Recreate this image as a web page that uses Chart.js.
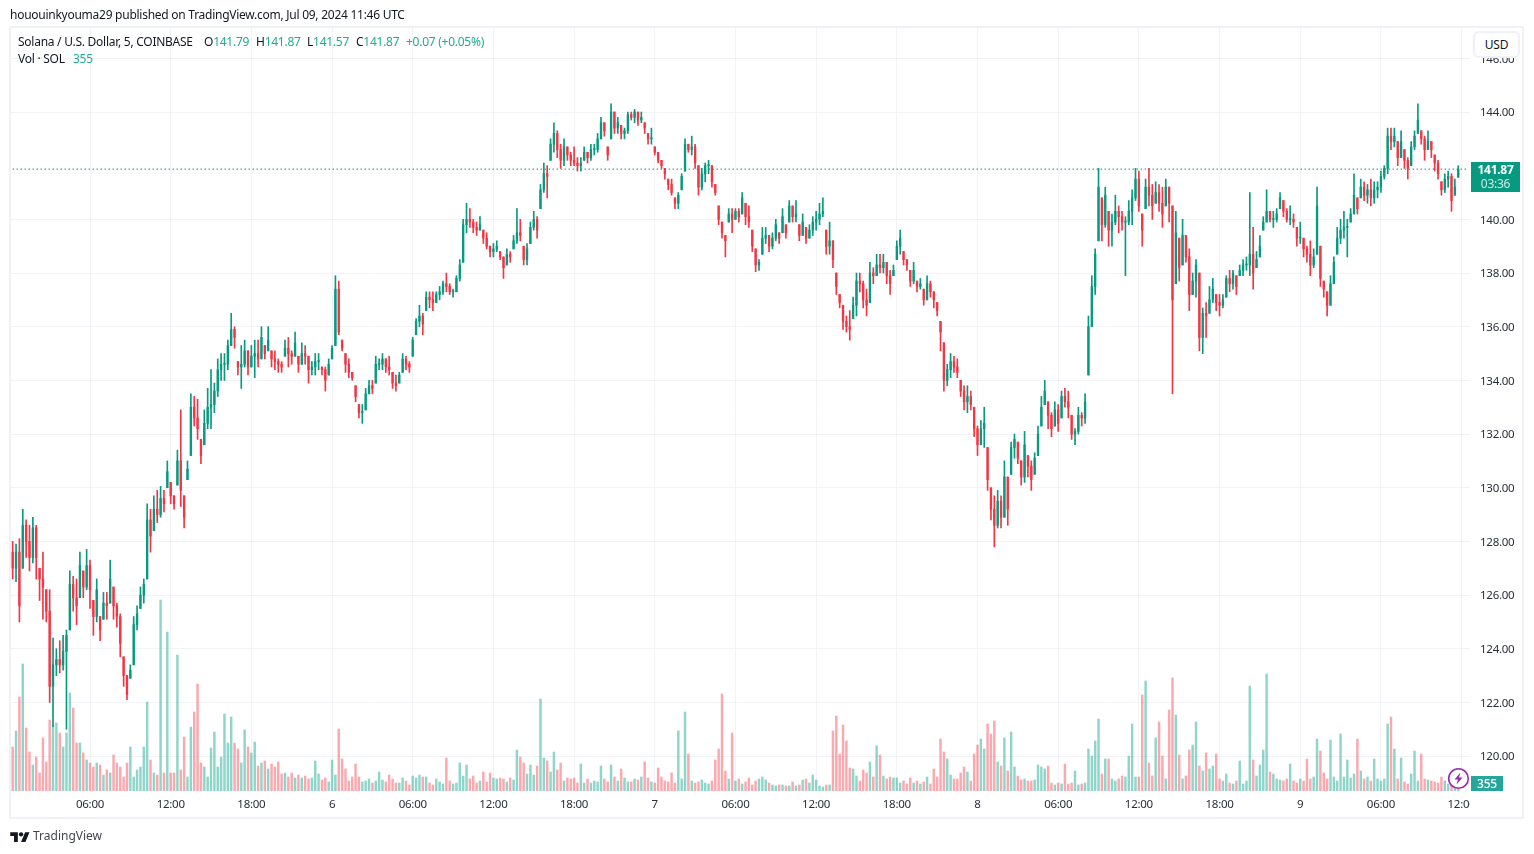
<!DOCTYPE html>
<html>
<head>
<meta charset="utf-8">
<title>SOLUSD</title>
<script src="https://cdn.jsdelivr.net/npm/chart.js@4"></script>
<style>
    html, body { margin: 0; padding: 0; background: #fff; }
    body { width: 1534px; height: 854px; position: relative; overflow: hidden;
           font-family: "Noto Sans", sans-serif; font-size: 12px; letter-spacing: -0.26px; color: #131722; }
    canvas { position: absolute; left: 0; top: 0; }
    .abs { position: absolute; white-space: nowrap; line-height: 14px; }
    .teal { color: #22ab94; }
    #frame { position: absolute; left: 9px; top: 26px; width: 1511px; height: 789px; border: 2px solid #f0f1f6; }
    #usdCover { position: absolute; left: 1471px; top: 28px; width: 49px; height: 30px; background: #fff; }
    #usd { position: absolute; left: 1473px; top: 31px; width: 43px; height: 23px; border: 2px solid #f0f1f6;
           border-radius: 6px; background: #fff; text-align: center; line-height: 23px; }
    #timeCover { position: absolute; left: 1470px; top: 795px; width: 50px; height: 20px; background: #fff; }
    #priceTag { position: absolute; left: 1471px; width: 49px; height: 29px; padding-top: 1px; background: #089981; color: #fff;
                text-align: center; font-weight: 700; line-height: 14px; }
    #priceTag div + div { font-weight: 400; opacity: .8; }
    #volTag { position: absolute; left: 1471px; top: 776px; width: 32px; height: 15px; background: #26a69a;
              color: #fff; text-align: center; line-height: 15px; font-weight: 500; }
</style>
</head>
<body>
<canvas id="chart" width="1534" height="854"></canvas>
<div id="frame"></div>
<div id="usdCover"></div>
<div id="usd">USD</div>
<div id="timeCover"></div>

<div class="abs" style="left:10px;top:8px">hououinkyouma29 published on TradingView.com, Jul 09, 2024 11:46 UTC</div>
<div class="abs" style="left:18px;top:35px">Solana / U.S. Dollar, 5, COINBASE</div>
<div class="abs" style="left:204px;top:35px">O<span class="teal">141.79</span></div>
<div class="abs" style="left:256px;top:35px">H<span class="teal">141.87</span></div>
<div class="abs" style="left:307px;top:35px">L<span class="teal">141.57</span></div>
<div class="abs" style="left:356px;top:35px">C<span class="teal">141.87</span></div>
<div class="abs teal" style="left:406px;top:35px">+0.07 (+0.05%)</div>
<div class="abs" style="left:18px;top:52px">Vol · SOL</div>
<div class="abs teal" style="left:73px;top:52px">355</div>

<div id="priceTag"><div>141.87</div><div>03:36</div></div>
<div id="volTag">355</div>

<svg class="abs" style="left:1447px;top:767px" width="23" height="23" viewBox="0 0 23 23">
    <circle cx="11.5" cy="11.5" r="9.8" fill="#fff" stroke="#9c27b0" stroke-width="1.6"/>
    <path d="M13.5 5.5 L7.5 12.5 H11 L9.5 17.5 L15.5 10.5 H12 Z" fill="#9c27b0"/>
</svg>

<svg class="abs" style="left:10px;top:830px" width="20" height="13" viewBox="0 0 36 24">
    <path d="M14 22H7V11H0V4h14v18zM28 22h-8l7.5-18h8L28 22z" fill="#131722"/>
    <circle cx="20" cy="8" r="4" fill="#131722"/>
</svg>
<div class="abs" style="left:33px;top:829px;font-size:12px;letter-spacing:0;color:#434651">TradingView</div>

<script>
// ============================================
// SOLUSD candles, one row per 6 hours
// (first candle 00:15 Jul 5, last candle 11:45 Jul 9, 15 minute steps)
// ============================================

const firstOpen = 127.6;

const highs = [
    128,127.9,128.1,129.2,128.8,128.6,128.9,128.6,127,127.6,126.2,126.2,124.4,124,124.3,124.5,124.7,126.9,126.7,126.6,127.6,126.9,127.7,
    127.3,125.8,126.6,125.2,126.1,126.1,127.3,126.3,125.7,125.3,123.7,123,123.4,125.2,125.6,126.3,126.6,129.4,129.2,129.7,129.9,130.05,129.9,131,
    130.2,129.7,131.4,132.9,129.7,131,133.5,133.4,133.3,131.8,132.9,133.7,134.4,133.9,134.8,135,135,135.5,136.5,136,134.7,135.3,135.5,135.1,
    135.3,135.5,135.5,136,135.3,136,135.1,135.1,134.8,134.7,135.5,135.6,135.1,135.8,134.9,135.4,135.3,134.9,134.7,135,135,134.5,134.5,134.8,
    135.3,137.9,137.7,135.5,135,134.8,134.3,133.8,133.1,133.1,133.7,134,134,134.9,134.8,135,134.8,134.9,134.3,134.2,134.3,135,134.9,134.7,
    135.6,136.3,136.8,136.5,137.3,137.3,137.3,137.3,137.5,137.7,138,137.6,137.4,137.9,138.5,140,140.6,140.4,140,139.9,140.1,139.6,139.5,139,
    139.1,139.2,138.8,138.6,138.9,138.8,139.4,140.4,140,139,139.1,139.9,140.3,140.1,141.3,142.1,142,143,143.6,143.3,142.8,143,142.7,142.5,
    142.7,142.3,142.3,142.7,142.5,142.8,142.8,143.2,143.8,143.6,142.7,144.3,144,143.8,143.5,143.4,144,144,144.1,144,144,143.6,143.2,143.4,
    142.7,142.5,142.2,141.9,141.5,141.5,140.8,141,141.7,143,142.8,143.1,142.8,142,141.9,142.1,142.2,142,141.3,140.5,139.9,139.4,140.4,140.4,
    140.4,140.4,141,140.6,140.5,139.6,138.9,138.5,139.7,139.7,139.4,139.5,140,139.5,140.4,139.8,140.7,140.5,140.7,139.8,140.2,139.7,139.8,140.1,
    140.3,140.6,140.8,139.6,139.9,139.2,138,137.2,136.8,136.4,136.6,137.1,138,138,137.7,137.4,138.4,138.2,138.7,138.7,138.7,138.4,138.1,138.3,
    139.2,139.6,138.8,138.5,138.1,138.4,137.7,137.8,137.4,137.9,137.7,137.3,136.9,136.2,135.4,134.6,135,134.9,134.8,134,133.8,133.8,133.6,133,
    132.3,132.5,133,131.5,130,129.7,129.9,129.7,131,130.4,131.7,132,131.7,131,132.1,131.2,131,131.3,132.3,133.4,134,133.2,132.8,133.2,
    133.1,133.6,133.7,133.6,132.7,132.2,133,132.8,133.5,136.4,137.9,138.9,141.9,140.8,141.2,140.3,140.2,140.9,140.5,140.3,140.1,140.7,141.1,141.9,
    141.8,140.2,141.5,141.9,141.3,141.4,141.3,141.2,141.5,141.2,140.5,140.3,139.3,140,139.4,138.9,138,138.5,138,136.7,136.9,137.5,137.8,137.2,
    137.2,137.2,137.9,138.1,138.1,137.9,138.3,138.5,138.6,141,139.7,138.8,139.4,140.1,141.1,140.3,140.3,140.4,141,140.7,140.4,140.5,140.2,139.7,
    139.9,139.3,139,139.2,138.9,141.2,139,137.7,137.3,137.9,138.6,139.7,140,140.3,140,140.4,141.7,140.8,141.5,141.4,141.3,141.5,141.4,141.4,
    141.8,142,143.4,143.4,143.4,142.9,143.3,142.6,142.3,142.9,143.3,144.3,143.3,143.1,143.3,142.9,142.4,142.2,141.4,141.7,141.8,141.7,141.5,142
];

const lows = [
    126.6,126.5,125,127,127.4,126.9,127.2,126.6,125.8,125.1,125,122,121.1,123,123.1,123.2,121,124.7,125.4,124.9,125.9,125.9,126.2,
    125.5,124.5,125,124.3,125.1,125.1,125.7,125.1,124.8,123.7,122.6,122.1,122.9,123.4,124.7,125.5,125.7,126.6,127.6,128.4,128.7,128.9,129.1,130,
    129.4,129.2,130.1,129.3,128.5,130.3,131.2,132.3,131.8,130.9,131.6,132.2,132.2,132.8,133.4,134,134,134.4,135.3,135.2,134.2,133.7,134.5,134.2,
    134.5,134.1,134.5,134.8,134.8,135.1,134.5,134.4,134.3,134.3,134.9,134.5,134.6,134.9,134.3,134.6,134.6,133.9,134.2,134.2,134.4,134.2,133.6,134.2,
    134.8,135.3,135.7,135.1,134.3,134.1,134,133.2,132.6,132.4,132.9,133.5,133.5,133.9,134.4,134.4,134.3,134.2,133.7,133.6,133.9,134.3,134.4,134.3,
    134.9,135.7,136,135.7,136.6,136.7,136.6,136.9,137,137.2,137.3,137.2,137.1,137.3,137.7,138.4,139.5,139.7,139.5,139.4,139.6,139.1,138.9,138.6,
    138.6,138.8,138.5,137.8,138.3,138.4,138.9,139.1,139.2,138.3,138.3,139.1,139.6,139.3,140.4,141,140.8,142.2,142.5,142.3,141.9,142,142.2,142,
    142,141.8,141.8,142.2,142.1,142.2,142.4,142.5,143,143.1,142.2,143,143.2,143.2,143,143,143.2,143.7,143.6,143.5,143.6,143.2,142.8,142.8,
    142.4,142.1,141.9,141.5,141.1,140.9,140.4,140.4,141.1,141.8,142.5,142.4,141.9,140.9,141.1,141.4,141.7,141.2,140.9,139.8,139.3,138.6,139.9,139.5,
    140,139.9,140.2,139.8,139.7,138.8,138.05,138.1,138.7,139.1,138.8,138.9,139.2,139.1,139.5,139.3,139.9,139.9,139.9,139.2,139.4,139.1,139.3,139.4,
    139.6,139.8,140.1,138.7,138.7,138.2,137.2,136.7,135.9,135.8,135.5,136.3,136.4,137.3,136.7,136.4,136.9,137.6,137.9,138,138,137.6,137.2,137.9,
    138.5,138.7,138.3,138.1,137.5,137.6,137.3,137.4,136.8,137,137.1,136.7,136.4,135.1,133.6,133.8,134.1,134.3,134.1,133.4,132.9,132.8,132.9,131.9,
    131.2,131.6,131.5,129.9,128.8,127.8,128.5,128.5,128.9,128.6,130.5,131.1,130.9,130.1,130.2,130.4,129.9,130.5,131.2,132.3,133.1,132.2,131.9,132.3,
    132.1,132.6,133,132.6,131.8,131.6,132,132.3,132.4,134.2,136,137.2,139.2,139.2,139.7,139,139,139.8,139.5,139.6,137.9,139.8,139.8,140.7,
    140.3,139,140.4,140.5,140,140.6,140.3,139.7,140.5,139.9,133.5,137.6,137.7,138.3,138.4,136.6,137.2,137.1,135.1,135,135.6,136.5,136.9,136.6,
    136.4,136.7,137.1,137.3,137.4,137.2,137.9,137.9,138.1,137.9,137.4,138.2,138.6,139.6,139.9,139.9,139.7,139.9,140.4,140.1,139.9,139.8,139.7,139,
    139.1,138.6,138.4,137.9,138.2,138.7,137.5,137.1,136.4,136.8,137.6,138.7,139.1,139.3,138.6,139.9,140.2,140.2,140.8,140.7,140.6,140.5,140.6,140.8,
    141,141.5,141.7,142.6,142.7,142,142.3,141.9,141.5,142,142.6,143.2,142.8,142.2,142.6,142.3,141.8,141.5,140.9,141,141.2,140.3,140.9,141.57
];

const closes = [
    127,127.6,125.6,128.6,128,127.4,128.5,127.4,126.6,126.3,125.4,122.6,123.4,123.6,123.4,123.9,124.5,126.4,125.9,125.6,127.1,126.3,127.1,
    126.2,125.2,126.2,124.7,125.7,125.6,126.6,125.6,125.2,124.2,123,122.3,123.2,124.9,125.3,126,126.4,128.8,128.2,129.2,129,129.6,129.4,130.6,
    129.7,129.4,131,129.9,128.9,130.7,133,132.6,132.2,131.2,132.4,133,133.1,133.6,134.4,134.6,134.6,135.3,135.9,135.6,134.5,134.6,135.1,134.5,
    134.9,135,134.8,135.6,135,135.5,134.8,134.7,134.6,134.5,135.2,135,134.9,135.4,134.6,135,134.9,134.4,134.5,134.7,134.7,134.4,134,134.6,
    135.2,137.4,135.8,135.2,134.6,134.3,134.1,133.4,132.8,132.8,133.5,133.8,133.7,134.6,134.6,134.8,134.5,134.4,133.9,133.8,134.2,134.8,134.6,134.5,
    135.5,136.2,136.4,136.1,137.1,137,136.9,137.2,137.3,137.6,137.5,137.3,137.3,137.8,138.3,139.8,140,139.9,139.7,139.6,139.8,139.3,139,138.8,
    138.9,139,138.6,138.2,138.7,138.6,139.2,139.5,139.4,138.5,138.9,139.7,140,139.6,141.1,141.7,141.6,142.8,143.2,142.6,142.2,142.7,142.4,142.2,
    142.1,142,142.1,142.5,142.3,142.6,142.6,143,143.6,143.3,142.4,144,143.4,143.6,143.2,143.3,143.9,143.8,144,143.7,143.8,143.4,143,143,
    142.5,142.2,142,141.7,141.3,141,140.6,140.9,141.6,142.8,142.6,142.7,142.1,141.2,141.7,142,142,141.4,141,140,139.5,139.2,140.2,140,
    140.3,140.1,140.8,140.1,139.9,139,138.3,138.4,139.3,139.4,139,139.3,139.8,139.3,140.1,139.5,140.5,140.1,140.2,139.4,139.9,139.3,139.6,139.9,
    140,140.2,140.3,139,139.2,138.5,137.5,136.9,136.2,136,135.9,136.8,137.7,137.6,137,136.8,138,137.9,138.3,138.2,138.4,137.9,137.6,138.1,
    139,139.3,138.5,138.3,137.7,138.1,137.5,137.6,137,137.6,137.3,137,136.6,135.8,134,134.4,134.7,134.5,134.3,133.6,133.2,133.4,133.1,132.2,
    131.6,132.2,132.4,130.3,129.2,128.6,129.5,128.9,130.4,129.2,131.5,131.8,131.1,130.4,131.6,130.8,130.3,131.1,132,133,133.6,132.7,132.2,132.9,
    132.4,133.4,133.2,133,132,132.1,132.7,132.6,133.2,136,137.5,138.7,141.2,139.8,140.9,139.6,139.9,140.3,140.1,139.9,139.9,140.3,140.8,141.5,
    140.5,139.6,141.2,140.9,140.5,141,140.6,140.2,141.2,140.6,137,139.5,138.2,139.4,138.6,137.2,137.7,138.3,135.6,136.5,136.4,137,137.4,136.9,
    136.8,137,137.8,137.6,138,137.5,138.1,138.3,138.3,138.7,138,138.5,139,139.9,140.3,140,140,140.2,140.8,140.3,140,140,139.9,139.3,
    139.3,138.9,138.7,138.3,138.6,140.5,137.8,137.4,136.8,137.6,138.4,139.3,139.6,139.7,139.7,140.2,140.9,140.4,141.2,140.9,141.1,140.8,141.1,141.2,
    141.6,141.9,143.1,142.9,143.1,142.3,142.9,142.2,141.9,142.7,143.1,143.7,143,142.6,142.9,142.6,142.1,141.7,141.1,141.5,141.6,140.7,141.2,141.87
];

const volumes = [
    44,60,94,127,63,39,26,34,18,53,29,71,66,68,58,44,58,98,83,48,48,38,31,
    28,24,28,26,16,21,18,36,28,24,14,28,44,14,21,24,44,89,31,18,16,191,18,159,
    18,18,136,21,54,14,64,79,107,28,24,14,43,59,24,34,77,48,74,48,42,28,61,44,
    38,49,25,28,30,22,27,24,29,17,18,14,18,13,16,13,15,12,13,30,17,11,13,9,
    31,16,62,32,22,10,14,27,14,9,10,12,8,10,19,11,9,16,12,8,8,13,10,6,
    15,13,16,14,14,8,6,12,9,7,33,10,7,8,28,15,26,12,15,8,10,19,9,18,
    13,12,13,12,9,13,11,41,34,28,17,26,16,25,92,33,30,19,39,21,28,10,13,12,
    13,8,27,8,12,8,10,9,25,12,9,26,14,10,22,13,9,9,12,11,14,29,13,9,
    8,23,14,10,9,18,8,60,12,79,37,10,8,9,11,8,7,10,31,42,97,20,12,58,
    10,12,7,9,13,6,10,12,14,11,8,6,5,6,6,5,5,9,5,6,11,12,8,16,
    11,5,4,6,6,60,75,37,66,50,23,22,15,10,21,18,29,14,45,36,15,12,14,13,
    13,8,10,7,13,8,10,7,9,14,7,22,14,52,39,32,16,12,12,18,24,19,10,37,
    46,52,42,67,57,70,29,25,53,20,59,24,15,11,12,10,10,11,26,24,22,25,8,6,
    8,7,27,7,8,20,6,7,8,42,35,50,72,17,32,32,12,10,12,15,14,35,67,14,
    14,96,110,28,15,53,69,35,12,81,113,76,36,12,15,41,46,69,25,20,38,22,25,37,
    12,10,17,8,7,10,30,7,10,105,31,15,26,41,117,19,17,12,11,10,12,27,10,8,
    12,10,32,12,14,52,40,18,12,51,14,10,57,14,31,13,17,52,20,12,14,10,32,12,
    10,12,67,74,42,12,33,9,7,17,40,10,37,12,11,10,9,8,14,10,7,8,5,1.8
];

const lastPrice = 141.87;
const priceTicks = [120, 122, 124, 126, 128, 130, 132, 134, 136, 138, 140, 144, 146];   // 142 gives way to the price tag
const dayLabels = { 1: '6', 2: '7', 3: '8', 4: '9' };   // key = days after Jul 5

// Slot labels, 3 empty slots are left after the last candle
const categories = [];
for (let i = 0; i < closes.length + 3; i++) {
    const minutes = (i + 1) * 15;
    const hour = Math.floor(minutes / 60) % 24;
    const minute = minutes % 60;
    const day = Math.floor(minutes / 1440);
    if (hour === 0 && minute === 0) categories.push(dayLabels[day]);
    else categories.push(String(hour).padStart(2, '0') + ':' + String(minute).padStart(2, '0'));
}

const opens = closes.map((c, i) => {
    const prev = i === 0 ? firstOpen : closes[i - 1];
    return Math.min(highs[i], Math.max(lows[i], prev));
});

const isUp = closes.map((c, i) => c >= opens[i]);
const UP = '#089981';
const DOWN = '#f23645';

function isMajorSlot(i) {
    const minutes = (i + 1) * 15;
    return minutes % 360 === 0;
}

const chart = new Chart(document.getElementById('chart'), {
    type: 'bar',
    data: {
        labels: categories,
        datasets: [
            {
                type: 'line',
                data: categories.map(() => lastPrice),
                yAxisID: 'y',
                borderColor: UP,
                borderWidth: 1.2,
                borderDash: [1.2, 2.8],
                pointRadius: 0,
                order: 0
            },
            {
                data: closes.map((c, i) => [opens[i], c]),
                yAxisID: 'y',
                backgroundColor: isUp.map(u => u ? UP : DOWN),
                barThickness: 1.7,
                minBarLength: 1,
                grouped: false,
                order: 1
            },
            {
                data: highs.map((h, i) => [lows[i], h]),
                yAxisID: 'y',
                backgroundColor: isUp.map(u => u ? UP : DOWN),
                barThickness: 1,
                grouped: false,
                order: 2
            },
            {
                data: volumes,
                yAxisID: 'yVol',
                backgroundColor: isUp.map(u => u ? 'rgba(34,171,148,0.5)' : 'rgba(247,82,95,0.5)'),
                barThickness: 1.8,
                grouped: false,
                order: 3
            }
        ]
    },
    options: {
        responsive: false,
        animation: false,
        events: [],
        layout: { padding: { left: 11, top: 28, right: 10, bottom: 35 } },
        plugins: { legend: { display: false }, tooltip: { enabled: false } },
        scales: {
            x: {
                offset: true,
                grid: { color: '#f2f3f6', offset: false, drawTicks: false },
                border: { display: false },
                afterBuildTicks: axis => { axis.ticks = axis.ticks.filter(t => isMajorSlot(t.value)); },
                afterFit: axis => { axis.height = 28; },
                ticks: {
                    autoSkip: false,
                    maxRotation: 0,
                    padding: 7,
                    color: '#2a2e39',
                    font: { family: '"Noto Sans", sans-serif', size: 11.5 }
                }
            },
            y: {
                position: 'right',
                min: 118.7,
                max: 147.13,
                grid: { color: '#f2f3f6', drawTicks: false },
                border: { display: false },
                afterBuildTicks: axis => { axis.ticks = priceTicks.map(v => ({ value: v })); },
                afterFit: axis => { axis.width = 54; },
                ticks: {
                    padding: 10,
                    labelOffset: 1,
                    color: '#2a2e39',
                    font: { family: '"Noto Sans", sans-serif', size: 11.5 },
                    callback: v => v.toFixed(2)
                }
            },
            yVol: {
                display: false,
                min: 0,
                max: 763
            }
        }
    }
});

// Price tag follows the price scale
document.getElementById('priceTag').style.top = (chart.scales.y.getPixelForValue(lastPrice) - 7.5) + 'px';
</script>
</body>
</html>
